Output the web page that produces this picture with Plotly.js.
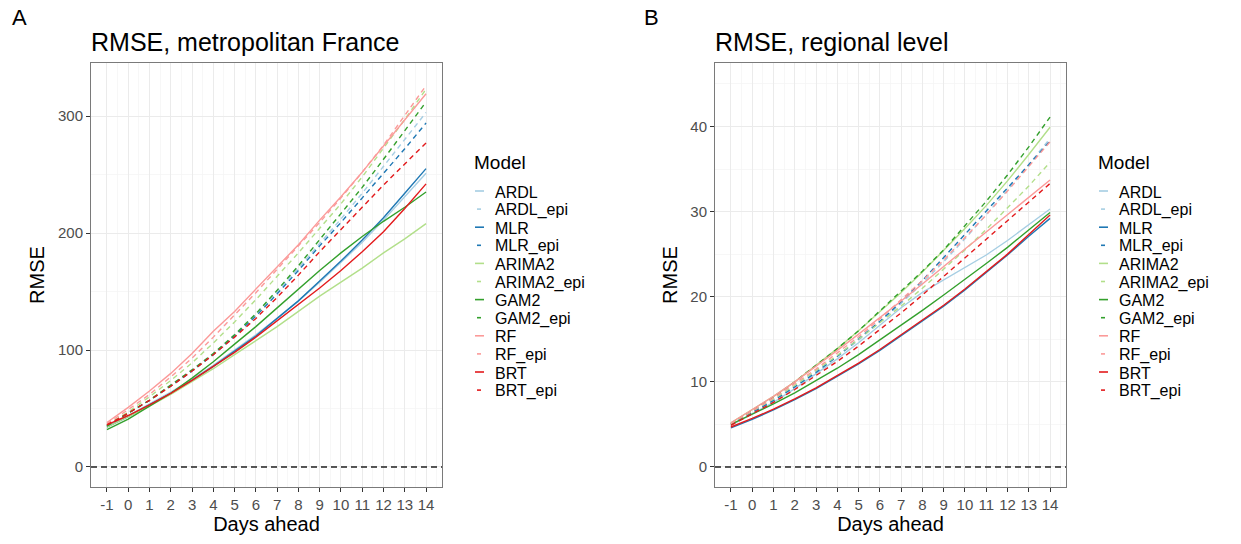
<!DOCTYPE html>
<html><head><meta charset="utf-8">
<script src="https://cdn.plot.ly/plotly-3.0.1.min.js"></script>
<style>html,body{margin:0;padding:0;background:#fff}#chart{width:1241px;height:544px}</style>
</head><body><div id="chart"></div>
<script>
// ---------- data ----------
const days = [-1,0,1,2,3,4,5,6,7,8,9,10,11,12,13,14];
const xTickLabels = ['-1','0','1','2','3','4','5','6','7','8','9','10','11','12','13','14'];
const models = ['ARDL','ARDL_epi','MLR','MLR_epi','ARIMA2','ARIMA2_epi','GAM2','GAM2_epi','RF','RF_epi','BRT','BRT_epi'];
const modelColors = ['#A6CEE3','#A6CEE3','#1F78B4','#1F78B4','#B2DF8A','#B2DF8A','#33A02C','#33A02C','#FB9A99','#FB9A99','#E31A1C','#E31A1C'];
const modelDash = ['solid','dash','solid','dash','solid','dash','solid','dash','solid','dash','solid','dash'];

// Panel A: RMSE, metropolitan France
const france_ARDL       = [35,44,54,64,75,87,100,113,127,142,158,175,192,211,231,251];
const france_ARDL_epi   = [35,46,57,70,83,97,113,131,150,170,191,212,234,257,280,303];
const france_MLR        = [34,43,53,63,74,86,99,112,127,142,159,176,194,213,234,255];
const france_MLR_epi    = [35,46,57,69,82,96,112,129,148,168,189,209,230,251,272,294];
const france_ARIMA2     = [34,43,52,62,73,84,96,108,120,133,146,158,170,183,195,208];
const france_ARIMA2_epi = [36,47,60,74,89,106,124,143,163,183,204,225,248,272,297,323];
const france_GAM2       = [32,41,52,63,76,90,105,120,136,152,168,183,197,210,222,235];
const france_GAM2_epi   = [35,46,57,70,83,97,113,131,151,172,194,216,239,263,288,312];
const france_RF         = [38,51,65,80,97,116,133,152,171,190,211,231,252,274,296,319];
const france_RF_epi     = [37,49,62,77,93,111,130,149,169,189,209,230,252,275,300,326];
const france_BRT        = [36,44,53,63,74,86,98,111,125,139,153,168,184,201,221,242];
const france_BRT_epi    = [36,46,57,69,82,96,111,127,145,164,184,203,222,241,259,277];

// Panel B: RMSE, regional level
const region_ARDL       = [4.9,6.2,7.6,9.2,10.9,12.7,14.6,16.6,18.7,20.5,22.0,23.4,24.9,26.6,28.4,30.3];
const region_ARDL_epi   = [5.0,6.4,7.9,9.5,11.2,13.0,14.9,17.0,19.2,21.6,24.1,26.8,29.6,32.5,35.5,38.6];
const region_MLR        = [4.6,5.6,6.7,7.9,9.2,10.6,12.1,13.7,15.4,17.1,18.9,20.8,22.8,24.9,27.1,29.2];
const region_MLR_epi    = [5.0,6.4,7.8,9.4,11.1,13.0,15.0,17.1,19.4,21.9,24.6,27.3,30.0,32.7,35.5,38.3];
const region_ARIMA2     = [5.2,6.7,8.3,10.0,11.9,13.9,16.0,18.2,20.5,22.9,25.4,28.0,30.7,33.6,36.7,39.9];
const region_ARIMA2_epi = [5.1,6.5,8.0,9.6,11.3,13.1,15.0,16.9,18.9,21.0,23.2,25.5,27.9,30.4,33.0,35.8];
const region_GAM2       = [5.0,6.2,7.4,8.7,10.1,11.6,13.2,14.9,16.6,18.4,20.2,22.0,23.9,25.8,27.8,29.9];
const region_GAM2_epi   = [5.1,6.6,8.2,10.0,11.9,13.9,16.0,18.3,20.6,23.0,25.5,28.3,31.2,34.3,37.6,41.1];
const region_RF         = [5.2,6.7,8.3,10.0,11.8,13.7,15.6,17.5,19.5,21.5,23.6,25.6,27.6,29.6,31.6,33.7];
const region_RF_epi     = [5.1,6.6,8.1,9.8,11.5,13.4,15.3,17.4,19.6,21.9,24.3,26.9,29.6,32.4,35.3,38.2];
const region_BRT        = [4.7,5.7,6.8,8.0,9.3,10.7,12.2,13.8,15.5,17.2,19.0,20.9,22.9,25.0,27.3,29.6];
const region_BRT_epi    = [4.9,6.2,7.6,9.1,10.7,12.4,14.2,16.1,18.1,20.2,22.4,24.6,26.8,29.0,31.1,33.3];

const franceSeries = [france_ARDL,france_ARDL_epi,france_MLR,france_MLR_epi,france_ARIMA2,france_ARIMA2_epi,
  france_GAM2,france_GAM2_epi,france_RF,france_RF_epi,france_BRT,france_BRT_epi];
const regionSeries = [region_ARDL,region_ARDL_epi,region_MLR,region_MLR_epi,region_ARIMA2,region_ARIMA2_epi,
  region_GAM2,region_GAM2_epi,region_RF,region_RF_epi,region_BRT,region_BRT_epi];

// ---------- layout helpers ----------
const W = 1241, H = 544;
const px = v => v / W;
const py = v => 1 - v / H;

const traces = [];
models.forEach((m, i) => {
  traces.push({x: days, y: franceSeries[i], xaxis: 'x', yaxis: 'y', type: 'scatter', mode: 'lines', name: m,
    showlegend: false, line: {color: modelColors[i], width: 1.4, dash: modelDash[i] === 'dash' ? '5px,4px' : 'solid'}, hoverinfo: 'skip'});
});
models.forEach((m, i) => {
  traces.push({x: days, y: regionSeries[i], xaxis: 'x2', yaxis: 'y2', type: 'scatter', mode: 'lines', name: m,
    showlegend: false, line: {color: modelColors[i], width: 1.4, dash: modelDash[i] === 'dash' ? '5px,4px' : 'solid'}, hoverinfo: 'skip'});
});

const tickFont = {family: 'Liberation Sans, Arial, sans-serif', size: 15, color: '#4d4d4d'};
const titleFont = {family: 'Liberation Sans, Arial, sans-serif', size: 20, color: '#000'};
function xAxis(domain, anchor) {
  return {domain: domain, anchor: anchor, range: [-1.75, 14.75], tickmode: 'array', tickvals: days, ticktext: xTickLabels,
    showgrid: true, gridcolor: '#ebebeb', gridwidth: 1, zeroline: false,
    minor: {tickmode: 'array', tickvals: days.map(d => d + 0.5), showgrid: true, gridcolor: '#f3f3f3', gridwidth: 0.7, ticks: ''},
    showline: true, mirror: true, linecolor: '#7a7a7a', linewidth: 1,
    ticks: 'outside', ticklen: 4, tickcolor: '#333', tickwidth: 1, tickfont: tickFont,
    title: {text: 'Days ahead', font: titleFont, standoff: 4}, fixedrange: true};
}
function yAxis(domain, anchor, range, dtick) {
  return {domain: domain, anchor: anchor, range: range, tick0: 0, dtick: dtick,
    showgrid: true, gridcolor: '#ebebeb', gridwidth: 1, zeroline: false,
    minor: {tick0: dtick / 2, dtick: dtick, showgrid: true, gridcolor: '#f3f3f3', gridwidth: 0.7, ticks: ''},
    showline: true, mirror: true, linecolor: '#7a7a7a', linewidth: 1,
    ticks: 'outside', ticklen: 4, tickcolor: '#333', tickwidth: 1, tickfont: tickFont,
    title: {text: 'RMSE', font: titleFont, standoff: 7}, fixedrange: true};
}

const yDom = [py(487), py(63)];
const layout = {
  width: W, height: H, margin: {l: 0, r: 0, t: 0, b: 0}, paper_bgcolor: '#fff', plot_bgcolor: '#fff',
  showlegend: false,
  font: {family: 'Liberation Sans, Arial, sans-serif'},
  xaxis: xAxis([px(91), px(442)], 'y'),
  yaxis: yAxis(yDom, 'x', [-17.1, 345.3], 100),
  xaxis2: xAxis([px(715), px(1066)], 'y2'),
  yaxis2: yAxis(yDom, 'x2', [-2.35, 47.45], 10),
  shapes: [], annotations: []
};

// dashed zero reference lines
[['x domain','y'],['x2 domain','y2']].forEach(r => {
  layout.shapes.push({type: 'line', xref: r[0], yref: r[1], x0: 0, x1: 1, y0: 0, y1: 0,
    line: {color: '#222', width: 1.3, dash: '6px,4px'}, layer: 'above'});
});

// panel tags and titles
const bigFont = s => ({family: 'Liberation Sans, Arial, sans-serif', size: s, color: '#000'});
layout.annotations.push({text: 'A', xref: 'paper', yref: 'paper', x: px(10), y: py(18), xanchor: 'left', yanchor: 'middle', showarrow: false, font: bigFont(22)});
layout.annotations.push({text: 'B', xref: 'paper', yref: 'paper', x: px(642), y: py(18), xanchor: 'left', yanchor: 'middle', showarrow: false, font: bigFont(22)});
layout.annotations.push({text: 'RMSE, metropolitan France', xref: 'paper', yref: 'paper', x: px(89), y: py(42), xanchor: 'left', yanchor: 'middle', showarrow: false, font: bigFont(25)});
layout.annotations.push({text: 'RMSE, regional level', xref: 'paper', yref: 'paper', x: px(713), y: py(42), xanchor: 'left', yanchor: 'middle', showarrow: false, font: bigFont(25)});

// legends (one per panel)
function addLegend(x0, textX, titleX) {
  layout.annotations.push({text: 'Model', xref: 'paper', yref: 'paper', x: px(titleX), y: py(163), xanchor: 'left', yanchor: 'middle', showarrow: false, font: bigFont(19)});
  models.forEach((m, i) => {
    const yc = 191 + i * 18.1;
    const dashed = modelDash[i] === 'dash';
    layout.shapes.push({type: 'line', xref: 'paper', yref: 'paper', x0: px(x0 + (dashed ? 2 : 0)), x1: px(x0 + (dashed ? 6 : 9)), y0: py(yc), y1: py(yc),
      line: {color: modelColors[i], width: 1.6}});
    layout.annotations.push({text: m, xref: 'paper', yref: 'paper', x: px(textX), y: py(yc + 1), xanchor: 'left', yanchor: 'middle', showarrow: false, font: bigFont(16)});
  });
}
addLegend(475, 493, 472);
addLegend(1099, 1117, 1096);

Plotly.newPlot('chart', traces, layout, {staticPlot: true, displayModeBar: false});
</script>
</body></html>
